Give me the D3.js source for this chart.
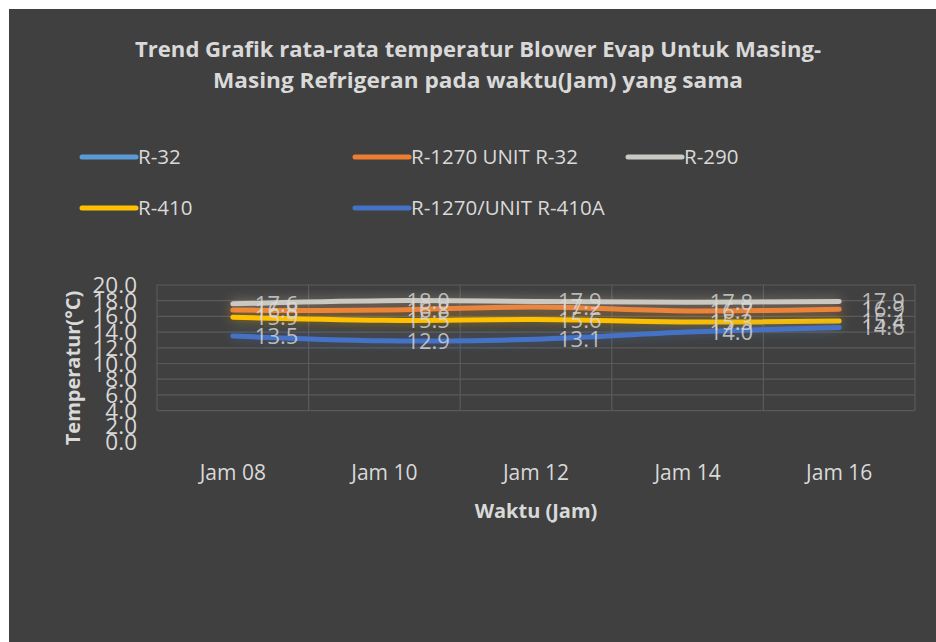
<!DOCTYPE html>
<html>
<head>
<meta charset="utf-8">
<script src="https://cdn.jsdelivr.net/npm/d3@7"></script>
<style>
  body { margin: 0; background: #fff; }
  text { font-family: "Open Sans", sans-serif; }
</style>
</head>
<body>
<script>
// data
var categories = ["Jam 08", "Jam 10", "Jam 12", "Jam 14", "Jam 16"];
var seriesNames = ["R-32", "R-1270 UNIT R-32", "R-290", "R-410", "R-1270/UNIT R-410A"];
var seriesColors = ["#5B9BD5", "#ED7D31", "#C9C9C2", "#FFC000", "#4472C4"];
var r32 = [null, null, null, null, null];
var r1270r32 = [16.8, 16.8, 17.2, 16.7, 16.9];
var r290 = [17.6, 18.0, 17.9, 17.8, 17.9];
var r410 = [15.9, 15.5, 15.6, 15.3, 15.4];
var r1270r410 = [13.5, 12.9, 13.1, 14.0, 14.6];
var yTicks = [0, 2, 4, 6, 8, 10, 12, 14, 16, 18, 20];

var allSeries = [r32, r1270r32, r290, r410, r1270r410];

var W = 936, H = 642;
var svg = d3.select("body").append("svg").attr("width", W).attr("height", H);

// glow filter like the excel effect
var defs = svg.append("defs");
var f = defs.append("filter").attr("id", "glow").attr("x", "-20%").attr("y", "-300%").attr("width", "140%").attr("height", "700%");
f.append("feGaussianBlur").attr("in", "SourceGraphic").attr("stdDeviation", 6).attr("result", "b");
f.append("feComponentTransfer").attr("in", "b").attr("result", "b2")
  .append("feFuncA").attr("type", "linear").attr("slope", 0.5);
var fm = f.append("feMerge");
fm.append("feMergeNode").attr("in", "b2");
fm.append("feMergeNode").attr("in", "SourceGraphic");

svg.append("rect").attr("x", 9).attr("y", 9).attr("width", W - 9).attr("height", H - 9).attr("fill", "#404040");

var xScale = d3.scaleBand().domain(categories).range([157, 915]);
var yScale = d3.scaleLinear().domain([0, 20]).range([442, 285]);

// title
var title = svg.append("text").attr("text-anchor", "middle").attr("fill", "#d9d9d9")
  .attr("font-size", 21).attr("font-weight", "bold");
title.append("tspan").attr("x", 478).attr("y", 57).attr("textLength", 686).attr("lengthAdjust", "spacingAndGlyphs")
  .text("Trend Grafik rata-rata temperatur Blower Evap Untuk Masing-");
title.append("tspan").attr("x", 478).attr("y", 88).attr("textLength", 530).attr("lengthAdjust", "spacingAndGlyphs")
  .text("Masing Refrigeran pada waktu(Jam) yang  sama");

// legend
var legendPos = [[82, 157], [355, 157], [628, 157], [82, 208], [355, 208]];
seriesNames.forEach(function(n, i) {
  var p = legendPos[i];
  svg.append("line").attr("x1", p[0]).attr("x2", p[0] + 54).attr("y1", p[1]).attr("y2", p[1])
    .attr("stroke", seriesColors[i]).attr("stroke-width", 5).attr("stroke-linecap", "round");
  svg.append("text").attr("x", p[0] + 56).attr("y", p[1] + 7).attr("fill", "#d9d9d9")
    .attr("font-size", 20.5).text(n);
});

// gridlines (only from 4 up, like the picture)
svg.append("g").selectAll("line").data(yTicks.filter(function(d){ return d >= 4; })).enter().append("line")
  .attr("x1", 157).attr("x2", 915).attr("y1", function(d){ return yScale(d); }).attr("y2", function(d){ return yScale(d); })
  .attr("stroke", "#5a5a5a").attr("stroke-width", 1.2);
var bounds = categories.map(function(c){ return xScale(c); }).concat([915]);
svg.append("g").selectAll("line").data(bounds).enter().append("line")
  .attr("x1", function(d){ return d; }).attr("x2", function(d){ return d; })
  .attr("y1", yScale(20)).attr("y2", yScale(4))
  .attr("stroke", "#5a5a5a").attr("stroke-width", 1.2);

// y tick labels
svg.append("g").selectAll("text").data(yTicks).enter().append("text")
  .attr("x", 137).attr("y", function(d){ return yScale(d) + 8; })
  .attr("text-anchor", "end").attr("fill", "#d9d9d9").attr("font-size", 22.5)
  .text(function(d){ return d.toFixed(1); });

// x tick labels
svg.append("g").selectAll("text").data(categories).enter().append("text")
  .attr("x", function(d){ return xScale(d) + xScale.bandwidth() / 2; }).attr("y", 480)
  .attr("text-anchor", "middle").attr("fill", "#d9d9d9").attr("font-size", 21)
  .text(function(d){ return d; });

// axis titles
svg.append("text").attr("text-anchor", "middle").attr("fill", "#d9d9d9").attr("font-size", 20).attr("font-weight", "bold")
  .attr("transform", "translate(80,368)rotate(-90)").text("Temperatur(°C)");
svg.append("text").attr("x", 536).attr("y", 518).attr("text-anchor", "middle").attr("fill", "#d9d9d9")
  .attr("font-size", 20).attr("font-weight", "bold").text("Waktu (Jam)");

// lines
var line = d3.line()
  .defined(function(d){ return d != null; })
  .x(function(d, i){ return xScale(categories[i]) + xScale.bandwidth() / 2; })
  .y(function(d){ return yScale(d); })
  .curve(d3.curveCatmullRom);
var drawOrder = [0, 1, 2, 3, 4];
drawOrder.forEach(function(i) {
  svg.append("path").attr("d", line(allSeries[i])).attr("fill", "none")
    .attr("stroke", seriesColors[i]).attr("stroke-width", 5).attr("stroke-linecap", "round")
    .attr("filter", "url(#glow)");
});

// data labels
drawOrder.forEach(function(i) {
  var pts = allSeries[i].map(function(v, j){ return {v: v, c: categories[j]}; })
    .filter(function(d){ return d.v != null; });
  svg.append("g").selectAll("text").data(pts).enter().append("text")
    .attr("x", function(d){ return xScale(d.c) + xScale.bandwidth() / 2 + 22; })
    .attr("y", function(d){ return yScale(d.v) + 8; })
    .attr("fill", "#d9d9d9").attr("fill-opacity", 0.8).attr("font-size", 22)
    .text(function(d){ return d.v.toFixed(1); });
});
</script>
</body>
</html>
